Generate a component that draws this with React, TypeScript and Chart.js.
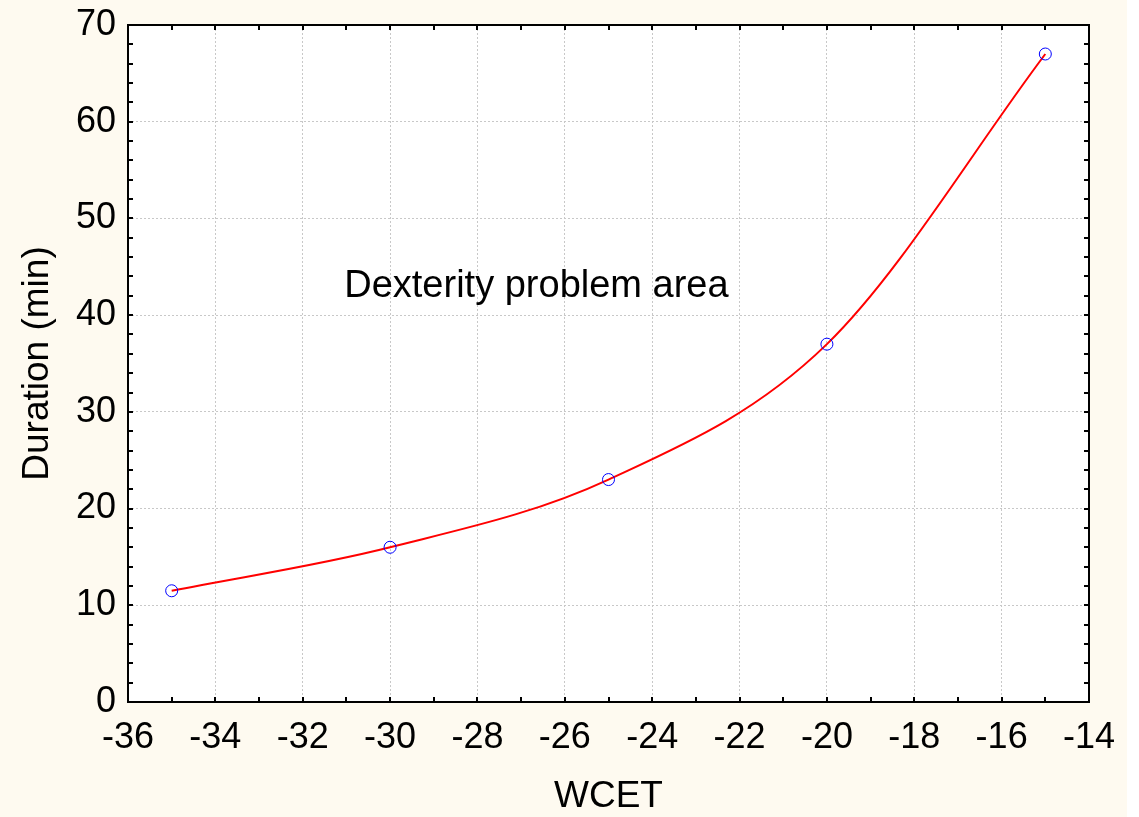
import React, { useEffect, useRef } from "react";
import { Chart, registerables } from "chart.js";

Chart.register(...registerables);

// ---- data ----
const wcet = [-35, -30, -25, -20, -15];
const duration = [11.5, 16, 23, 37, 67];

const xTicks = [-36, -34, -32, -30, -28, -26, -24, -22, -20, -18, -16, -14];
const yTicks = [0, 10, 20, 30, 40, 50, 60, 70];
const xMinorPerMajor = 2;
const yMinorPerMajor = 5;

const xTitle = "WCET";
const yTitle = "Duration (min)";
const noteText = "Dexterity problem area";
const noteX = -26.65;
const noteY = 41.9;

const FONT = "'Liberation Sans', Arial, Helvetica, sans-serif";
const BG = "#fefaf0";

const framePlugin = {
  id: "frameTicks",
  beforeDatasetsDraw(chart: any) {
    const { ctx, scales } = chart;
    const x = scales.x;
    const y = scales.y;
    ctx.save();
    ctx.fillStyle = "#000";
    ctx.font = `38px ${FONT}`;
    ctx.textAlign = "center";
    ctx.textBaseline = "alphabetic";
    ctx.fillText(noteText, x.getPixelForValue(noteX), y.getPixelForValue(noteY));
    ctx.restore();
  },
  afterDatasetsDraw(chart: any) {
    const { ctx, chartArea, scales } = chart;
    const { left, right, top, bottom } = chartArea;
    const x = scales.x;
    const y = scales.y;
    const len = 5;
    ctx.save();
    ctx.strokeStyle = "#000";
    ctx.lineWidth = 2;
    ctx.beginPath();
    for (let i = 0; i < xTicks.length; i++) {
      const a = xTicks[i];
      const b = i + 1 < xTicks.length ? xTicks[i + 1] : a;
      const n = i + 1 < xTicks.length ? xMinorPerMajor : 1;
      for (let k = 0; k < n; k++) {
        const v = a + ((b - a) * k) / xMinorPerMajor;
        const px = Math.round(x.getPixelForValue(v));
        ctx.moveTo(px, bottom);
        ctx.lineTo(px, bottom - len);
        ctx.moveTo(px, top);
        ctx.lineTo(px, top + len);
      }
    }
    for (let i = 0; i < yTicks.length; i++) {
      const a = yTicks[i];
      const b = i + 1 < yTicks.length ? yTicks[i + 1] : a;
      const n = i + 1 < yTicks.length ? yMinorPerMajor : 1;
      for (let k = 0; k < n; k++) {
        const v = a + ((b - a) * k) / yMinorPerMajor;
        const py = Math.round(y.getPixelForValue(v));
        ctx.moveTo(left, py);
        ctx.lineTo(left + len, py);
        ctx.moveTo(right, py);
        ctx.lineTo(right - len, py);
      }
    }
    ctx.stroke();
    ctx.strokeRect(left, top, right - left, bottom - top);
    ctx.restore();
  },
};

const bgPlugin = {
  id: "bg",
  beforeDraw(chart: any) {
    const { ctx, width, height, chartArea } = chart;
    ctx.save();
    ctx.fillStyle = BG;
    ctx.fillRect(0, 0, width, height);
    ctx.fillStyle = "#ffffff";
    ctx.fillRect(chartArea.left, chartArea.top, chartArea.right - chartArea.left, chartArea.bottom - chartArea.top);
    ctx.restore();
  },
};

export default function App() {
  const ref = useRef<HTMLCanvasElement | null>(null);

  useEffect(() => {
    if (!ref.current) return;
    const chart = new Chart(ref.current, {
      type: "line",
      data: {
        datasets: [
          {
            data: wcet.map((v, i) => ({ x: v, y: duration[i] })),
            borderColor: "#ff0000",
            borderWidth: 2,
            cubicInterpolationMode: "monotone",
            pointRadius: 6,
            pointHoverRadius: 6,
            pointBorderColor: "#0000ff",
            pointBackgroundColor: "rgba(0,0,0,0)",
            pointBorderWidth: 1,
            fill: false,
          },
        ],
      },
      options: {
        animation: false,
        responsive: false,
        devicePixelRatio: 1,
        events: [],
        layout: { padding: { top: 25, right: 38, left: 12, bottom: 0 } },
        plugins: {
          legend: { display: false },
          tooltip: { enabled: false },
        },
        scales: {
          x: {
            type: "linear",
            min: xTicks[0],
            max: xTicks[xTicks.length - 1],
            afterBuildTicks: (s: any) => {
              s.ticks = xTicks.map((v) => ({ value: v }));
            },
            afterFit: (s: any) => {
              s.height = 115;
              s.paddingLeft = 0;
              s.paddingRight = 0;
            },
            grid: { color: "#c8c8c8", lineWidth: 1, drawTicks: false },
            border: { display: false, dash: [2, 2] },
            ticks: {
              color: "#000",
              font: { family: FONT, size: 36 },
              padding: 14,
              maxRotation: 0,
              autoSkip: false,
              callback: (v: any) => String(v),
            },
            title: {
              display: true,
              text: xTitle,
              color: "#000",
              font: { family: FONT, size: 37, lineHeight: 1.1 },
              padding: { top: 0, bottom: 0 },
            },
          },
          y: {
            type: "linear",
            min: yTicks[0],
            max: yTicks[yTicks.length - 1],
            afterBuildTicks: (s: any) => {
              s.ticks = yTicks.map((v) => ({ value: v }));
            },
            afterFit: (s: any) => {
              s.width = 116;
              s.paddingTop = 0;
              s.paddingBottom = 0;
            },
            grid: { color: "#c8c8c8", lineWidth: 1, drawTicks: false },
            border: { display: false, dash: [2, 2] },
            ticks: {
              color: "#000",
              font: { family: FONT, size: 36 },
              padding: 12,
              autoSkip: false,
              callback: (v: any) => String(v),
            },
            title: {
              display: true,
              text: yTitle,
              color: "#000",
              font: { family: FONT, size: 37, lineHeight: 1.2 },
              padding: { top: 4, bottom: 4 },
            },
          },
        },
      },
      plugins: [bgPlugin, framePlugin],
    } as any);
    return () => chart.destroy();
  }, []);

  return (
    <div style={{ position: "absolute", left: 0, top: 0, width: 1139, height: 817, background: "#ffffff" }}>
      <canvas ref={ref} width={1127} height={817} style={{ display: "block", width: 1127, height: 817 }} />
    </div>
  );
}
